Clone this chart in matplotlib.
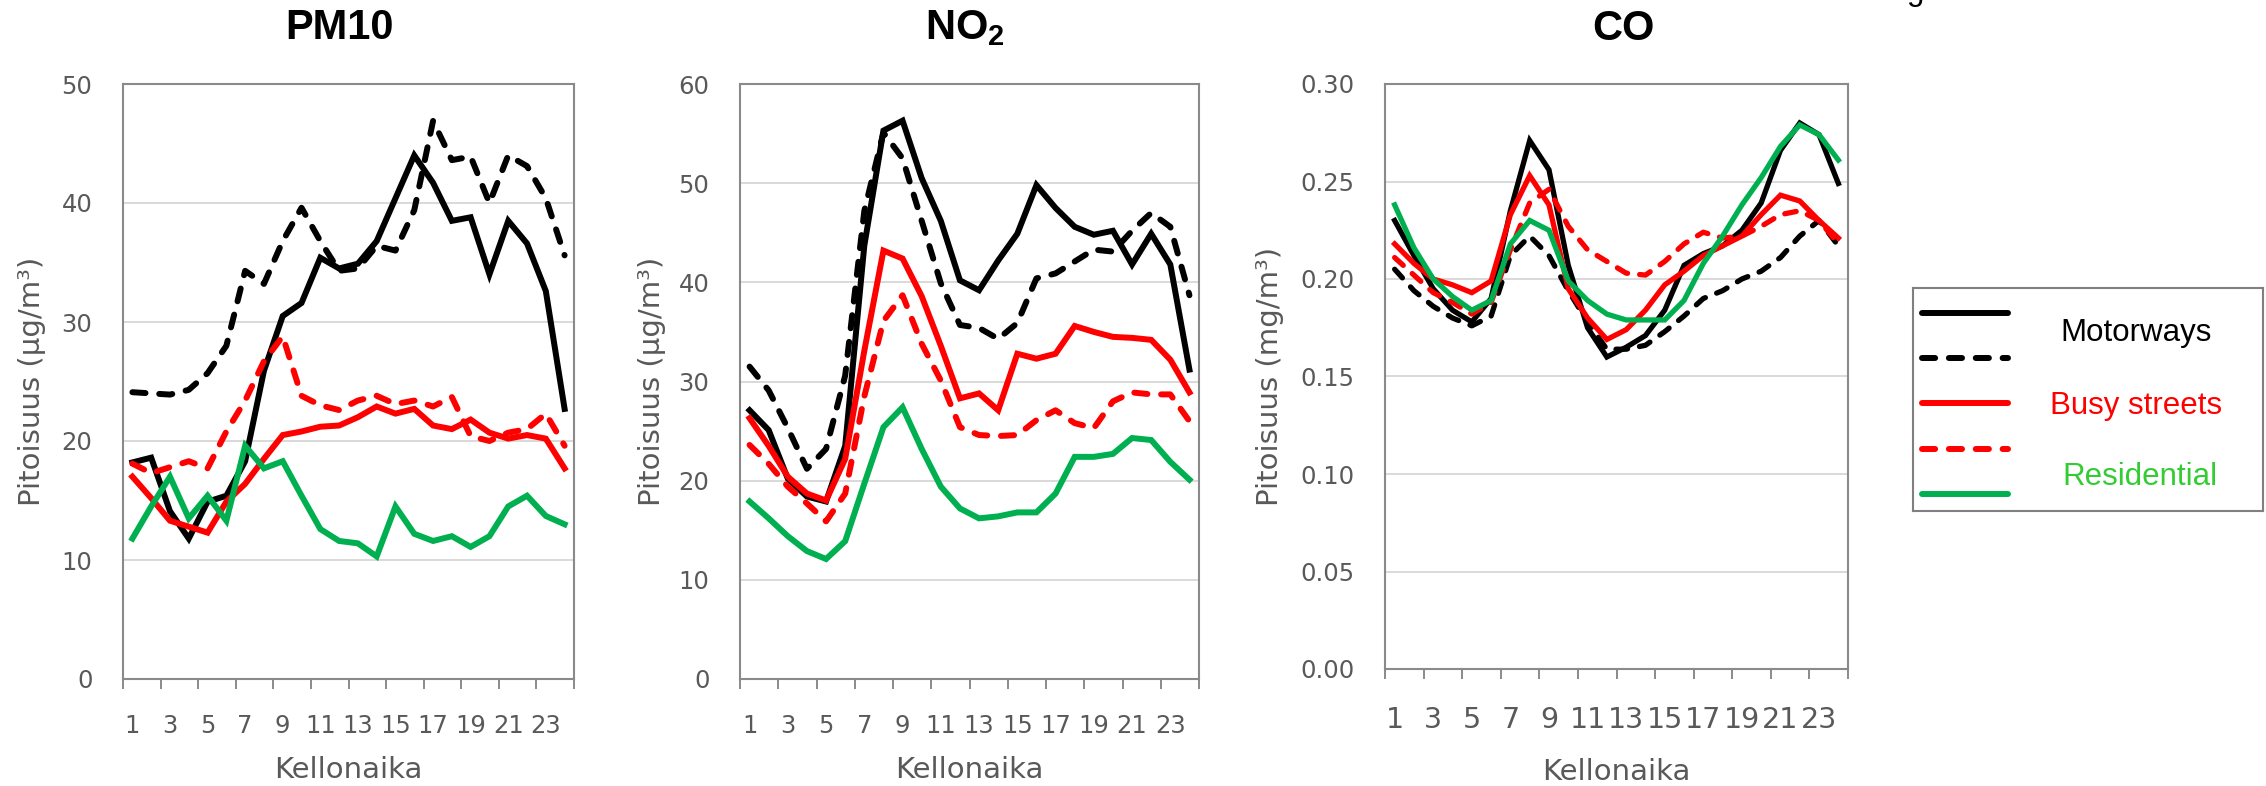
import numpy as np
import matplotlib
matplotlib.use("Agg")
from matplotlib import pyplot as plt
from matplotlib.ticker import FixedLocator, FormatStrFormatter

plt.rcParams['mathtext.fontset'] = 'custom'
plt.rcParams['mathtext.rm'] = 'Liberation Sans'
plt.rcParams['mathtext.bf'] = 'Liberation Sans:bold'

hours = np.arange(1, 25)

# PM10 (ug/m3)
pm10_motorway = [18.2, 18.6, 14.1, 11.8, 14.9, 15.4, 18.3, 25.9, 30.5, 31.6, 35.4, 34.5,
                 34.9, 36.8, 40.4, 44.0, 41.7, 38.5, 38.8, 34.0, 38.5, 36.6, 32.6, 22.7]
pm10_motorway_b = [24.1, 24.0, 23.9, 24.3, 25.7, 28.0, 34.3, 33.2, 36.8, 39.6, 36.8, 34.3,
                   34.5, 36.4, 36.0, 39.4, 46.9, 43.6, 43.9, 40.0, 44.0, 43.1, 40.4, 35.6]
pm10_busy = [17.0, 15.2, 13.3, 12.8, 12.3, 14.9, 16.4, 18.5, 20.5, 20.8, 21.2, 21.3,
             22.0, 22.9, 22.3, 22.7, 21.3, 21.0, 21.8, 20.7, 20.2, 20.5, 20.2, 17.7]
pm10_busy_b = [18.1, 17.3, 17.8, 18.3, 17.7, 20.8, 23.4, 26.7, 28.8, 23.8, 23.0, 22.6,
               23.4, 23.8, 23.1, 23.4, 22.9, 23.7, 20.4, 20.0, 20.7, 21.0, 22.3, 19.6]
pm10_resid = [11.8, 14.5, 17.0, 13.5, 15.4, 13.3, 19.6, 17.7, 18.3, 15.4, 12.6, 11.6,
              11.4, 10.3, 14.5, 12.2, 11.6, 12.0, 11.1, 12.0, 14.5, 15.4, 13.7, 13.0]

# NO2 (ug/m3)
no2_motorway = [27.1, 25.1, 20.2, 18.4, 17.9, 23.5, 43.7, 55.3, 56.3, 50.5, 46.2, 40.2,
                39.2, 42.2, 44.9, 49.8, 47.5, 45.6, 44.8, 45.2, 41.8, 44.9, 41.8, 31.2]
no2_motorway_b = [31.5, 29.1, 25.3, 21.2, 23.2, 30.6, 47.2, 55.1, 52.5, 46.2, 39.9, 35.7,
                  35.4, 34.3, 35.9, 40.4, 40.9, 42.1, 43.3, 43.1, 45.2, 47.0, 45.6, 38.7]
no2_busy = [26.3, 23.5, 20.4, 18.7, 18.0, 22.2, 33.1, 43.2, 42.4, 38.6, 33.6, 28.3,
            28.8, 27.1, 32.8, 32.3, 32.8, 35.6, 35.0, 34.5, 34.4, 34.2, 32.2, 28.9]
no2_busy_b = [23.6, 21.7, 19.4, 17.7, 15.9, 18.7, 28.5, 36.1, 38.7, 33.8, 30.1, 25.4,
              24.6, 24.5, 24.6, 26.1, 27.1, 25.8, 25.3, 28.0, 28.9, 28.7, 28.7, 26.0]
no2_resid = [17.9, 16.2, 14.4, 12.9, 12.1, 13.9, 19.7, 25.4, 27.4, 23.2, 19.4, 17.2,
             16.2, 16.4, 16.8, 16.8, 18.7, 22.4, 22.4, 22.7, 24.3, 24.1, 21.9, 20.1]

# CO (mg/m3)
co_motorway = [0.230, 0.212, 0.195, 0.184, 0.178, 0.190, 0.235, 0.271, 0.256, 0.207, 0.175, 0.160,
               0.165, 0.171, 0.184, 0.207, 0.213, 0.217, 0.225, 0.239, 0.266, 0.280, 0.274, 0.249]
co_motorway_b = [0.205, 0.194, 0.186, 0.180, 0.176, 0.181, 0.212, 0.222, 0.212, 0.194, 0.178, 0.164,
                 0.164, 0.166, 0.173, 0.181, 0.190, 0.194, 0.200, 0.204, 0.211, 0.222, 0.230, 0.217]
co_busy = [0.218, 0.208, 0.200, 0.197, 0.193, 0.199, 0.233, 0.253, 0.238, 0.195, 0.180, 0.169,
           0.174, 0.184, 0.197, 0.204, 0.212, 0.217, 0.222, 0.233, 0.243, 0.240, 0.230, 0.221]
co_busy_b = [0.211, 0.202, 0.193, 0.188, 0.182, 0.188, 0.215, 0.239, 0.246, 0.227, 0.215, 0.209,
             0.203, 0.202, 0.209, 0.218, 0.224, 0.221, 0.222, 0.227, 0.233, 0.235, 0.230, 0.218]
co_resid = [0.238, 0.216, 0.200, 0.191, 0.184, 0.189, 0.218, 0.230, 0.225, 0.199, 0.189, 0.182,
            0.179, 0.179, 0.179, 0.189, 0.208, 0.222, 0.238, 0.252, 0.268, 0.279, 0.274, 0.261]

titles = ['PM10', r'NO$_\mathbf{2}$', 'CO']
ylabels = ['Pitoisuus (µg/m³)', 'Pitoisuus (µg/m³)', 'Pitoisuus (mg/m³)']
ymax = [50, 60, 0.30]
ystep = [10, 10, 0.05]

series_names = ['Motorways', 'Busy streets', 'Residential']
line_colors = ['black', 'black', '#ff0000', '#ff0000', '#00b050']
line_dashed = [False, True, False, True, False]
text_colors = ['black', '#ff0000', '#33cc33']

panels = [
    [pm10_motorway, pm10_motorway_b, pm10_busy, pm10_busy_b, pm10_resid],
    [no2_motorway, no2_motorway_b, no2_busy, no2_busy_b, no2_resid],
    [co_motorway, co_motorway_b, co_busy, co_busy_b, co_resid],
]

W, H = 2266, 786
fig = plt.figure(figsize=(W / 100, H / 100), dpi=100)

# axes boxes in pixels: left, top, right, bottom
boxes = [(123, 84, 574, 679), (740, 84, 1199, 679), (1385, 84, 1848, 669)]
title_x = [0.479, 0.49, 0.516]
ylab_x = [-0.202, -0.192, -0.248]
xlab_y = [-0.153, -0.153, -0.176]
xtick_pad = [25, 25, 27]
xtick_size = [17.5, 17.5, 20.5]
lws = [4.3, 4.3, 3.8]

grey = '#595959'
frame = '#8a8a8a'

for i in range(3):
    l, t, r, b = boxes[i]
    ax = fig.add_axes([l / W, 1 - b / H, (r - l) / W, (b - t) / H])
    for k, vals in enumerate(panels[i]):
        ln, = ax.plot(hours, vals, color=line_colors[k], lw=lws[i],
                      solid_joinstyle='miter', zorder=3)
        if line_dashed[k]:
            ln.set_dashes((2.2, 2.3))
            ln.set_dash_capstyle('round')
    ax.set_xlim(0.5, 24.5)
    ax.set_ylim(0, ymax[i])
    ax.yaxis.set_major_locator(FixedLocator(np.arange(0, ymax[i] + ystep[i] / 2, ystep[i])))
    if i == 2:
        ax.yaxis.set_major_formatter(FormatStrFormatter('%.2f'))
    ax.xaxis.set_major_locator(FixedLocator(np.arange(0.5, 25, 2)))
    ax.xaxis.set_minor_locator(FixedLocator(hours[::2]))
    ax.set_xticklabels([], minor=False)
    ax.set_xticklabels([str(h) for h in hours[::2]], minor=True)
    ax.tick_params(axis='x', which='major', length=7.2, width=1.4, color=frame, direction='out')
    ax.tick_params(axis='x', which='minor', length=0, pad=xtick_pad[i],
                   labelsize=xtick_size[i], labelcolor=grey)
    ax.tick_params(axis='y', length=0, pad=22, labelsize=17.5, labelcolor=grey)
    ax.grid(axis='y', color='#d9d9d9', lw=1.4, zorder=0)
    ax.set_axisbelow(True)
    for s in ax.spines.values():
        s.set_color(frame)
        s.set_linewidth(1.5)
    ax.set_ylabel(ylabels[i], fontsize=21, color=grey)
    ax.yaxis.set_label_coords(ylab_x[i], 0.5)
    ax.yaxis.label.set_va('center')
    ax.set_xlabel('Kellonaika', fontsize=21, color=grey)
    ax.xaxis.set_label_coords(0.5, xlab_y[i])
    ax.xaxis.label.set_va('center')
    ax.text(title_x[i], 1.094, titles[i], transform=ax.transAxes, ha='center', va='center',
            fontsize=30, fontweight='bold', family='Liberation Sans')

# legend box
lax = fig.add_axes([1913 / W, 1 - 511 / H, 350 / W, 223 / H])
lax.set_xlim(0, 1)
lax.set_ylim(0, 1)
lax.set_xticks([])
lax.set_yticks([])
for s in lax.spines.values():
    s.set_color('#808080')
    s.set_linewidth(1.5)
line_y = [0.888, 0.686, 0.484, 0.278, 0.076]
for k in range(5):
    ln, = lax.plot([0.026, 0.271], [line_y[k], line_y[k]], color=line_colors[k], lw=4.3,
                   solid_capstyle='round')
    if line_dashed[k]:
        ln.set_dashes((2.2, 2.3))
        ln.set_dash_capstyle('round')
text_x = [0.637, 0.637, 0.649]
text_y = [0.798, 0.471, 0.152]
for k in range(3):
    lax.text(text_x[k], text_y[k], series_names[k], color=text_colors[k], fontsize=22.5,
             family='Liberation Sans', ha='center', va='center')

# cut-off text at the top edge
fig.text(1915 / W, 1.0, 'g', fontsize=22.5, family='Liberation Sans', ha='center', va='baseline')

fig.savefig('out.png', dpi=100)
